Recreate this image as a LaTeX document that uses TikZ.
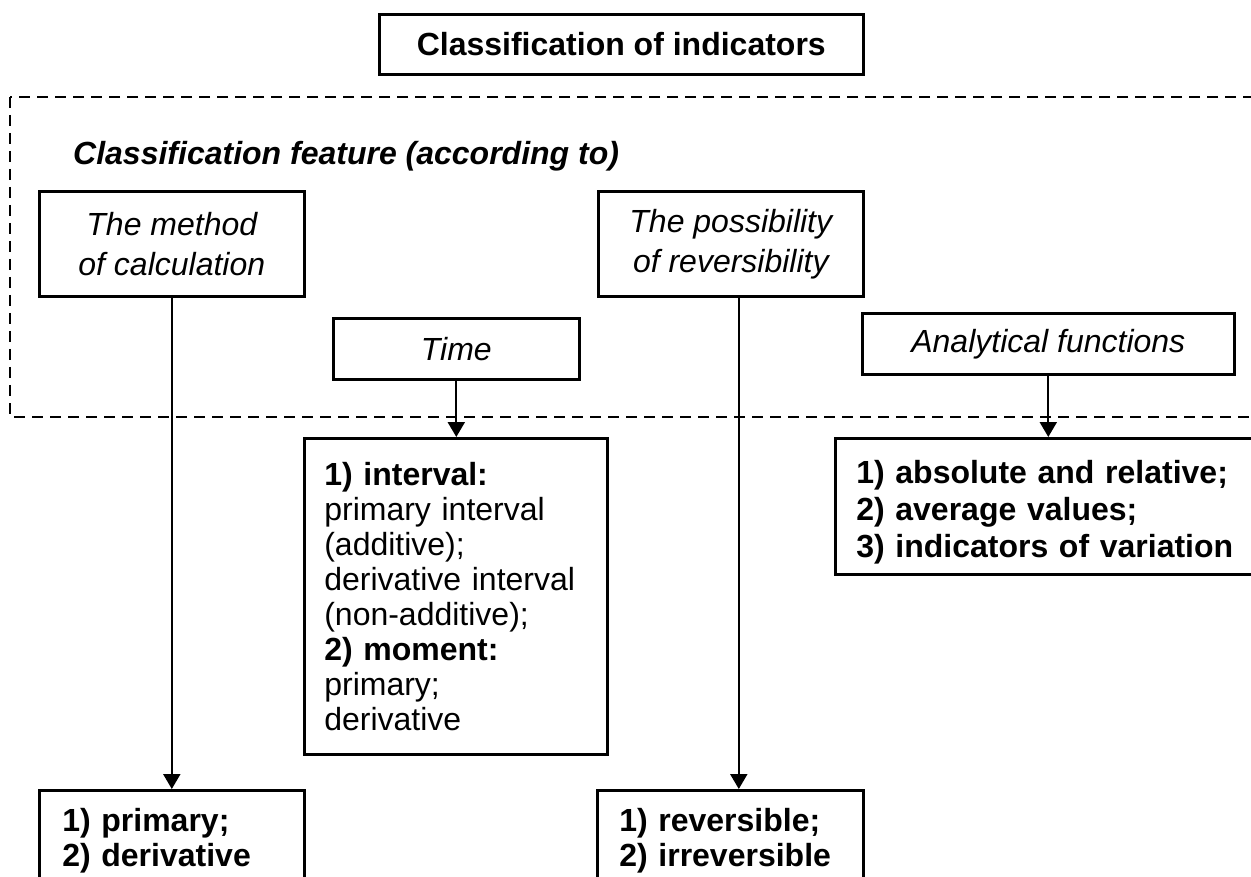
\documentclass[tikz,border=0pt]{standalone}
\usepackage{fontspec}
\setmainfont{Liberation Sans}
\usetikzlibrary{arrows.meta}
\begin{document}
\begin{tikzpicture}[x=1pt,y=-1pt,
  box/.style={draw, line width=2.6pt, inner sep=0pt, anchor=north west},
  headbox/.style={box, align=center, font=\fontsize{32}{40}\selectfont\itshape},
  listbox/.style={box, align=left, font=\fontsize{32}{35}\selectfont},
  groupframe/.style={draw, line width=2.6pt, dash pattern=on 11pt off 7pt},
  arr/.style={line width=2.2pt, -{Triangle[width=17pt,length=15pt]}}
]
\useasboundingbox (0,0) rectangle (1251,877);
\clip (0,0) rectangle (1251,877);

% title
\node[box, minimum width=484pt, minimum height=60pt,
      font=\fontsize{32}{38}\selectfont\bfseries] (title) at (378,13)
  {Classification of indicators};

% dashed group of classification features
\draw[groupframe] (10,97) rectangle (1275,417);
\node[anchor=base west, inner sep=0pt,
      font=\fontsize{32}{38}\selectfont\bfseries\itshape] (feat) at (73,165)
  {Classification feature (according to)};

% feature boxes
\node[headbox, minimum width=265pt, minimum height=105pt] (method) at (38,190)
  {The method\\of calculation};
\node[headbox, minimum width=265pt, minimum height=105pt] (poss) at (597,190)
  {The possibility\\of reversibility};
\node[headbox, minimum width=246pt, minimum height=61pt] (time) at (332,317)
  {Time};
\node[headbox, minimum width=372pt, minimum height=61pt] (anal) at (861,312)
  {Analytical functions};

% result boxes
\node[listbox, minimum width=303pt, minimum height=316pt, text width=263pt,
      inner xsep=20pt] (interval) at (303,437)
  {\textbf{1) interval:}\\primary interval\\(additive);\\derivative interval\\(non-additive);\\\textbf{2) moment:}\\primary;\\derivative};
\node[listbox, minimum width=441pt, minimum height=136pt, text width=399pt,
      inner xsep=21pt, font=\fontsize{32}{37}\selectfont\bfseries] (abs) at (834,437)
  {\rule{0pt}{36pt}1) absolute and relative;\\2) average values;\\3) indicators of variation};
\node[listbox, text width=219pt, inner xsep=23pt, inner ysep=18pt,
      font=\fontsize{32}{35}\selectfont\bfseries] (res1) at (38,789)
  {1) primary;\\2) derivative};
\node[listbox, text width=222pt, inner xsep=22pt, inner ysep=18pt,
      font=\fontsize{32}{35}\selectfont\bfseries] (res2) at (596,789)
  {1) reversible;\\2) irreversible};

% connectors
\draw[arr] (method.south) -- (res1.north);
\draw[arr] ([xshift=8pt]poss.south) -- ([xshift=8pt]poss.south |- res2.north);
\draw[arr] (time.south) -- (time.south |- interval.north);
\draw[arr] (anal.south) -- (anal.south |- abs.north);
\end{tikzpicture}
\end{document}
